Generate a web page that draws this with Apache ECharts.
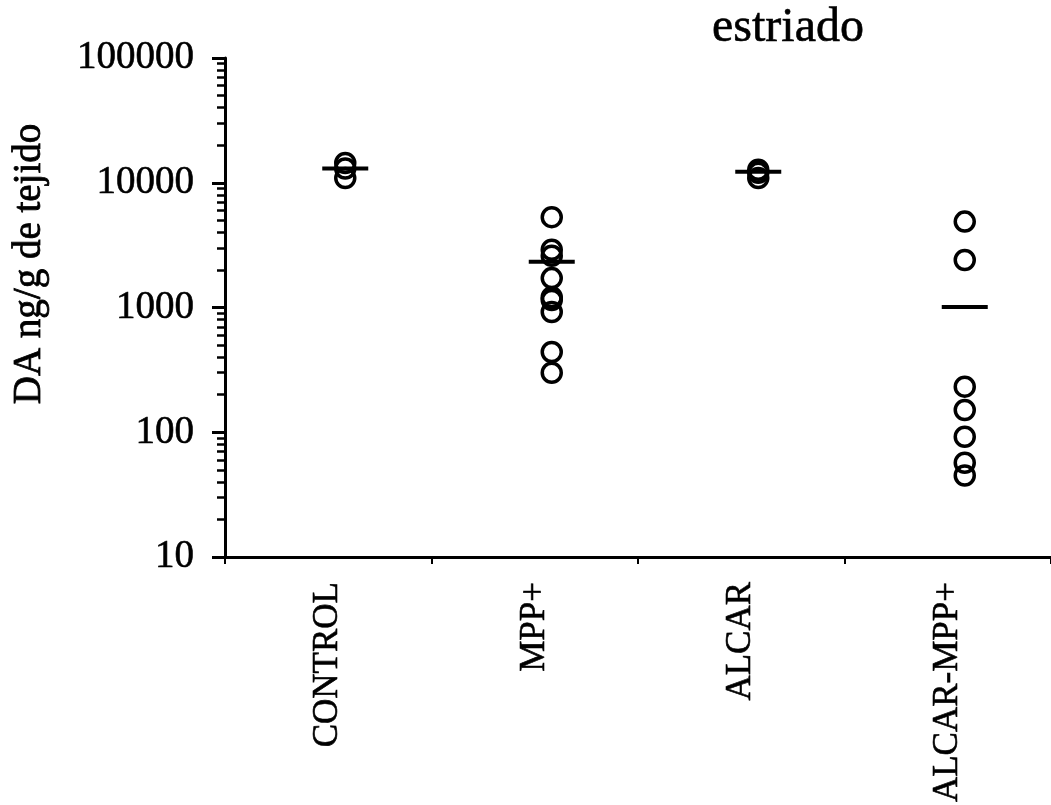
<!DOCTYPE html>
<html>
<head>
<meta charset="utf-8">
<script src="https://cdn.jsdelivr.net/npm/echarts@6/dist/echarts.min.js"></script>
<style>html,body{margin:0;padding:0;background:#fff;}#c{width:1051px;height:805px;}</style>
</head>
<body>
<div id="c"></div>
<script>
const categories = ['CONTROL', 'MPP+', 'ALCAR', 'ALCAR-MPP+'];
const controlValues = [14400, 13000, 10900];
const mppValues = [5300, 2900, 2600, 1720, 1210, 1150, 920, 440, 300];
const alcarValues = [12700, 12000, 10900];
const alcarMppValues = [4880, 2400, 232, 151, 92, 57, 45];
const centerLines = [13000, 2330, 12250, 1010];
const yMajorTicks = [10, 100, 1000, 10000, 100000];
const yMinorTicks = [20, 30, 40, 50, 60, 70, 80, 90,
  200, 300, 400, 500, 600, 700, 800, 900,
  2000, 3000, 4000, 5000, 6000, 7000, 8000, 9000,
  20000, 30000, 40000, 50000, 60000, 70000, 80000, 90000];
const yTitle = 'DA ng/g de tejido';
const chartTitle = 'estriado';

const groups = [controlValues, mppValues, alcarValues, alcarMppValues];
const pointData = [];
groups.forEach((g, i) => g.forEach(v => pointData.push([categories[i], v])));
const lineData = centerLines.map((v, i) => [categories[i], v]);

const FONT = '"Liberation Serif", "DejaVu Serif", serif';
const chart = echarts.init(document.getElementById('c'), null, {renderer: 'canvas'});
chart.setOption({
  animation: false,
  backgroundColor: '#fff',
  title: {
    text: chartTitle, left: 712, top: 4, padding: 0,
    textStyle: {fontFamily: FONT, fontSize: 48, fontWeight: 'normal', color: '#000',
      textBorderColor: '#000', textBorderWidth: 0.6}
  },
  graphic: [{
    type: 'text', x: 30, y: 264, rotation: Math.PI / 2,
    style: {text: yTitle, fontFamily: FONT, fontSize: 39, fill: '#000',
      stroke: '#000', lineWidth: 0.8, align: 'center', verticalAlign: 'middle'}
  }],
  grid: {left: 225, right: 0, top: 58, bottom: 248, containLabel: false, outerBoundsMode: 'none'},
  xAxis: [{
    type: 'category', data: categories, position: 'bottom',
    axisLine: {lineStyle: {color: '#000', width: 3}},
    axisTick: {alignWithLabel: true, length: 12, lineStyle: {color: '#000', width: 2}},
    axisLabel: {rotate: 90, margin: 25, fontFamily: FONT, fontSize: 35, color: '#000',
      textBorderColor: '#000', textBorderWidth: 0.6},
    splitLine: {show: false}
  }, {
    type: 'category', data: categories, position: 'bottom',
    axisLine: {show: false},
    axisTick: {show: true, length: 7, interval: 0, lineStyle: {color: '#000', width: 2}},
    axisLabel: {show: false},
    splitLine: {show: false}
  }],
  yAxis: [{
    type: 'log', logBase: 10, min: 10, max: 100000,
    axisLine: {show: true, lineStyle: {color: '#000', width: 3}},
    axisTick: {show: true, length: 13, customValues: yMajorTicks, lineStyle: {color: '#000', width: 3}},
    axisLabel: {margin: 31, fontFamily: FONT, fontSize: 39, color: '#000', customValues: yMajorTicks,
      formatter: v => String(v), textBorderColor: '#000', textBorderWidth: 0.6},
    splitLine: {show: false}
  }, {
    type: 'log', logBase: 10, min: 10, max: 100000, position: 'left',
    axisLine: {show: false},
    axisTick: {show: true, length: 8, customValues: yMinorTicks, lineStyle: {color: '#000', width: 2.5}},
    axisLabel: {show: false},
    splitLine: {show: false}
  }],
  series: [{
    type: 'scatter', xAxisIndex: 0, yAxisIndex: 0,
    data: pointData, symbol: 'circle', symbolSize: 19, symbolOffset: [17, 0],
    itemStyle: {color: 'rgba(0,0,0,0)', borderColor: '#000', borderWidth: 3.5, opacity: 1}
  }, {
    type: 'scatter', xAxisIndex: 0, yAxisIndex: 0,
    data: lineData, symbol: 'rect', symbolSize: [46, 4], symbolOffset: [17, 0],
    itemStyle: {color: '#000', opacity: 1}
  }]
});
</script>
</body>
</html>
